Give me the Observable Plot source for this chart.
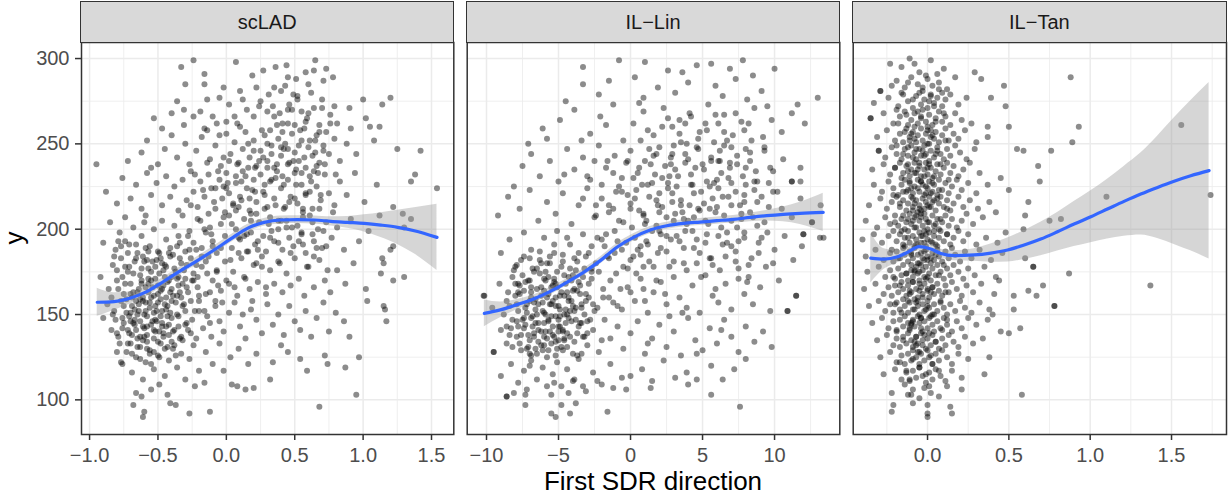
<!DOCTYPE html>
<html><head><meta charset="utf-8">
<script src="https://cdn.jsdelivr.net/npm/d3@7"></script>
<script src="https://cdn.jsdelivr.net/npm/@observablehq/plot@0.6"></script>
<style>
html,body{margin:0;padding:0;background:#fff;}
#fig{position:relative;width:1228px;height:495px;overflow:hidden;font-family:"Liberation Sans",Arial,Helvetica,sans-serif;}
.strip{position:absolute;top:1px;height:41.75px;box-sizing:border-box;background:#d9d9d9;border:1.5px solid #333;color:#1a1a1a;font-size:20px;line-height:23px;padding-top:2px;display:flex;align-items:center;justify-content:center;}
.ttl{position:absolute;color:#000;font-size:26px;line-height:26px;white-space:nowrap;}
</style></head><body><div id="fig"></div>
<script>
const panelNames = ["scLAD", "IL\u2212Lin", "IL\u2212Tan"];
const xTitle = "First SDR direction";
const yTitle = "y";
const yMajor = [100, 150, 200, 250, 300];
const yMinor = [125, 175, 225, 275];
const p1XTicks = [-1, -0.5, 0, 0.5, 1, 1.5];
const p1XMinor = [-0.75, -0.25, 0.25, 0.75, 1.25];
const p2XTicks = [-10, -5, 0, 5, 10];
const p2XMinor = [-7.5, -2.5, 2.5, 7.5, 12.5];
const p3XTicks = [0, 0.5, 1, 1.5];
const p3XMinor = [-0.25, 0.25, 0.75, 1.25, 1.75];

// scLAD points (x, y pairs)
const scladXY = [
-0.33,295,-0.24,299,0.07,298,0.36,295,0.44,296,0.65,299,0.73,294,0.78,289,0.19,290,0.27,293,0.45,289,0.51,288,0.58,292,0.64,293,0.71,287,-0.16,291,
-0.30,285,-0.16,285,-0.14,276,-0.36,275,-0.31,270,-0.05,277,0.02,273,0.10,281,0.25,275,0.31,279,0.40,281,0.46,273,0.55,269,0.64,271,0.70,271,0.79,272,0.90,271,-0.19,269,-0.40,268,-0.24,266,-0.10,266,0.06,266,0.20,266,0.30,269,0.45,270,0.59,265,0.76,267,0.00,263,0.10,260,-0.07,262,-0.16,259,-0.31,261,0.37,261,0.50,261,0.68,261,0.81,262,0.91,259,1.00,276,1.14,273,1.20,277,1.02,265,1.05,260,1.12,260,-0.53,265,-0.47,259,0.15,270,0.35,266,0.52,278,0.22,283,0.62,280,-0.02,283,
-0.72,240,-0.62,245,-0.58,252,-0.50,238,-0.45,247,-0.40,255,-0.36,242,-0.30,250,-0.27,238,-0.22,246,-0.18,254,-0.12,241,-0.08,249,-0.04,237,0.00,256,0.03,244,0.06,251,0.09,239,0.12,247,0.14,257,0.17,242,0.20,252,0.22,237,0.25,246,0.28,255,0.30,240,0.33,249,0.35,236,0.38,253,0.40,243,0.43,250,0.45,238,0.48,256,0.50,245,0.53,240,0.55,252,0.58,236,0.60,248,0.63,243,0.66,255,0.68,239,0.71,249,0.75,244,0.79,253,0.83,240,0.88,250,0.95,244,1.25,247,1.42,246,1.08,252,-0.55,236,0.27,242,0.42,247,0.16,236,0.57,259,-0.14,258,0.73,257,0.32,258,
-0.88,222,-0.80,215,-0.76,230,-0.70,218,-0.66,226,-0.62,212,-0.58,233,-0.55,220,-0.51,227,-0.47,214,-0.44,231,-0.41,219,-0.38,225,-0.35,211,-0.32,229,-0.29,217,-0.26,234,-0.24,222,-0.21,213,-0.19,228,-0.16,219,-0.13,232,-0.11,224,-0.08,212,-0.05,229,-0.03,218,0.00,233,0.02,221,0.05,214,0.07,227,0.10,219,0.12,234,0.15,224,0.17,211,0.20,229,0.22,216,0.25,232,0.27,222,0.30,213,0.32,228,0.35,218,0.37,234,0.40,224,0.42,212,0.45,229,0.47,219,0.50,233,0.52,215,0.55,226,0.58,220,0.61,231,0.63,212,0.66,225,0.69,217,0.72,232,0.75,221,0.79,214,0.83,228,0.88,220,0.94,233,1.01,216,1.10,226,1.22,213,1.38,232,0.19,223,0.41,231,-0.02,225,0.56,210,0.28,226,0.64,234,0.09,213,
-0.90,192,-0.85,204,-0.81,188,-0.78,198,-0.74,207,-0.71,191,-0.68,201,-0.65,186,-0.62,196,-0.59,208,-0.56,190,-0.53,200,-0.50,187,-0.47,205,-0.44,194,-0.41,189,-0.38,202,-0.35,196,-0.32,208,-0.30,187,-0.27,199,-0.24,192,-0.21,206,-0.18,189,-0.15,198,-0.13,209,-0.10,193,-0.07,186,-0.04,203,-0.01,196,0.02,208,0.04,189,0.07,200,0.10,194,0.13,206,0.15,187,0.18,198,0.21,191,0.24,204,0.27,196,0.29,187,0.32,207,0.35,193,0.38,200,0.41,188,0.44,205,0.46,195,0.49,190,0.52,202,0.55,197,0.58,186,0.61,208,0.64,193,0.67,200,0.70,189,0.73,204,0.77,195,0.81,201,0.86,188,0.91,206,0.97,193,1.04,199,1.12,208,1.20,188,1.30,201,-0.60,204,-0.36,190,-0.12,201,0.09,186,0.33,199,0.56,191,-0.79,193,0.22,209,
-0.92,172,-0.86,165,-0.83,179,-0.80,170,-0.77,183,-0.75,162,-0.72,175,-0.70,168,-0.67,181,-0.65,163,-0.63,173,-0.61,184,-0.59,166,-0.57,177,-0.55,170,-0.53,161,-0.51,182,-0.49,174,-0.47,165,-0.45,179,-0.43,169,-0.41,184,-0.39,161,-0.37,175,-0.35,167,-0.33,180,-0.30,171,-0.28,163,-0.26,183,-0.24,174,-0.21,166,-0.18,178,-0.15,162,-0.13,184,-0.10,170,-0.07,176,-0.04,164,-0.01,181,0.02,168,0.05,175,0.08,161,0.11,183,0.14,171,0.17,165,0.20,179,0.23,169,0.26,184,0.29,162,0.32,176,0.35,168,0.38,181,0.41,163,0.44,174,0.47,167,0.50,183,0.53,171,0.57,161,0.60,178,0.64,166,0.68,182,0.72,170,0.76,163,0.81,176,0.87,168,0.93,180,1.02,165,1.13,174,1.22,170,-0.69,160,-0.58,182,-0.46,176,-0.34,163,-0.22,179,-0.62,170,-0.50,167,-0.40,172,-0.74,178,
-0.90,148,-0.87,156,-0.84,141,-0.82,152,-0.79,137,-0.77,158,-0.75,145,-0.73,151,-0.71,139,-0.69,155,-0.67,147,-0.65,136,-0.63,159,-0.61,143,-0.60,150,-0.58,138,-0.56,154,-0.54,146,-0.52,140,-0.50,157,-0.48,149,-0.46,137,-0.44,153,-0.42,144,-0.40,158,-0.38,141,-0.36,150,-0.34,136,-0.32,155,-0.29,145,-0.26,139,-0.23,152,-0.20,158,-0.17,142,-0.14,149,-0.11,137,-0.08,155,-0.05,146,-0.02,140,0.02,151,0.06,157,0.10,143,0.14,136,0.18,153,0.22,147,0.26,139,0.30,156,0.34,144,0.38,150,0.42,138,0.46,155,0.50,146,0.54,141,0.58,152,0.62,137,0.66,148,0.71,157,0.75,140,0.80,151,0.86,146,0.90,137,1.16,153,1.17,146,-0.64,152,-0.55,144,-0.70,146,-0.47,143,-0.59,157,-0.76,142,-0.43,149,-0.66,141,-0.53,151,
-0.80,128,-0.76,121,-0.72,133,-0.69,116,-0.66,125,-0.63,131,-0.61,112,-0.59,122,-0.56,129,-0.53,118,-0.50,126,-0.48,133,-0.45,114,-0.42,123,-0.39,130,-0.36,119,-0.33,127,-0.30,112,-0.27,124,-0.24,132,-0.20,117,-0.15,128,-0.10,121,-0.05,133,-0.02,117,0.03,125,0.09,130,0.16,121,0.22,127,0.32,112,0.34,122,0.45,128,0.54,124,0.59,117,0.72,126,0.74,121,0.87,119,0.97,125,0.40,132,-0.58,134,
-0.68,97,-0.61,90,-0.60,93,-0.27,92,-0.12,93,0.68,96,0.95,103,-0.66,104,-0.62,102,-0.43,103,-0.41,98,-0.37,97,-0.23,108,-0.16,110,0.04,109,0.08,108,0.14,106,0.20,107,-0.49,109,-0.55,106,
-0.84,160,-0.81,147,-0.80,176,-0.78,133,-0.77,190,-0.75,155,-0.74,168,-0.73,128,-0.72,186,-0.71,149,-0.70,162,-0.69,138,-0.68,174,-0.67,153,-0.66,183,-0.65,131,-0.64,165,-0.63,146,-0.62,177,-0.61,158,-0.60,137,-0.59,189,-0.58,149,-0.57,168,-0.56,127,-0.55,160,-0.54,181,-0.53,141,-0.52,171,-0.51,152,-0.50,134,-0.49,186,-0.48,159,-0.47,145,-0.46,167,-0.45,130,-0.44,178,-0.43,155,-0.42,138,-0.41,163,-0.40,148,-0.39,185,-0.38,132,-0.37,157,-0.36,171,-0.35,143,-0.34,192,-0.33,160,-0.32,135,-0.31,176,-0.30,152,-0.29,166,-0.28,141,-0.27,188,-0.26,158,-0.25,147,-0.24,170,-0.22,136,-0.20,161,-0.18,184,-0.16,152,-0.14,174,-0.12,145,-0.10,190,-0.08,158,-0.06,167,-0.60,142,-0.55,175,-0.66,158,-0.52,147,-0.45,156,-0.70,151,-0.63,137,-0.57,163,-0.49,140,-0.42,170,-0.76,172,-0.68,145,-0.58,130,-0.47,180,
0.02,240,0.05,215,0.08,262,0.11,228,0.13,196,0.16,250,0.18,209,0.21,236,0.23,188,0.26,258,0.28,220,0.31,203,0.33,244,0.36,230,0.38,192,0.41,257,0.43,213,0.46,239,0.48,201,0.51,226,0.53,249,0.56,207,0.58,263,0.61,222,0.63,197,0.66,237,0.68,212,0.71,246,0.73,190,-0.05,255,-0.02,207,0.00,224,0.07,231,0.24,272,0.39,268,0.49,279,0.60,285,0.35,283,0.12,276,0.45,262,0.30,236,0.20,246,0.55,233,0.65,252,0.40,205,0.17,218,
-0.95,238,1.54,224,1.35,228,1.29,209,1.35,206,1.22,190,1.14,183,1.15,180,1.30,172,1.03,158,1.15,155
];
// scLAD: denser parts of the cloud
const scladCoreXY = [
-0.83,150,-0.82,184,-0.80,139,-0.79,165,-0.77,122,-0.76,148,-0.74,193,-0.73,159,-0.72,141,-0.71,178,-0.69,127,-0.68,163,-0.67,144,-0.66,191,-0.64,156,-0.63,124,-0.62,168,-0.61,135,-0.60,181,-0.59,152,-0.58,143,-0.57,187,-0.56,157,-0.55,121,-0.54,166,-0.53,136,-0.52,178,-0.51,146,-0.50,162,-0.49,125,-0.48,183,-0.47,152,-0.46,139,-0.45,172,-0.44,160,-0.43,131,-0.42,186,-0.41,151,-0.40,165,-0.39,140,-0.38,177,-0.37,126,-0.36,161,-0.35,149,-0.34,183,-0.33,137,-0.32,168,-0.31,156,-0.30,144,-0.29,179,-0.65,150,-0.57,171,-0.53,128,-0.48,164,-0.44,143,-0.70,133,-0.61,160,-0.52,155,-0.40,134,-0.35,172,
-0.28,196,-0.26,214,-0.25,170,-0.23,232,-0.22,188,-0.20,152,-0.19,205,-0.17,223,-0.15,181,-0.14,239,-0.12,163,-0.11,197,-0.09,216,-0.07,175,-0.06,234,-0.04,189,-0.03,157,-0.01,210,0.01,227,0.03,182,0.04,203,0.06,166,0.08,238,0.09,195,0.11,217,0.13,172,0.14,231,0.16,187,0.18,205,0.19,158,0.21,222,0.23,193,0.24,240,0.26,178,0.28,212,0.29,166,-0.16,200,-0.08,224,0.00,170,0.07,211,0.15,197,0.22,180,-0.21,172,-0.02,242,0.12,150,
0.30,250,0.32,195,0.34,272,0.36,214,0.37,238,0.39,180,0.41,262,0.42,226,0.44,201,0.45,247,0.47,186,0.48,270,0.50,218,0.51,235,0.53,193,0.54,258,0.56,212,0.57,242,0.59,178,0.60,268,0.62,228,0.63,204,0.65,245,0.66,189,0.68,257,0.69,220,0.71,199,0.72,238,0.74,176,0.76,262,0.78,210,0.80,232,0.33,229,0.40,248,0.46,216,0.52,276,0.58,221,0.64,184,0.70,276,0.43,284,0.55,198,0.61,252,0.38,205,0.49,240,0.67,233
];

// IL-Lin points (x, y pairs)
const ilLinXY = [
-0.8,299,1.0,298,7.8,299,-3.3,295,2.6,293,4.6,296,10.0,294,-3.3,285,-4.5,275,3.6,292,5.6,297,6.9,294,8.5,290,0.3,289,-1.5,287,1.9,283,4.0,286,5.9,284,7.3,288,9.1,281,-2.2,279,6.4,278,3.1,280,0.9,277,8.1,276,
-6.1,259,-7.1,250,13.0,277,11.6,273,-4.9,264,-3.9,270,-2.8,256,-2.1,266,-1.2,273,-0.5,252,0.2,262,0.9,269,1.6,255,2.3,271,2.9,260,3.5,251,4.2,266,4.8,257,5.4,273,6.1,262,6.7,252,7.3,268,7.9,258,8.6,271,9.2,254,9.8,264,10.5,257,11.2,268,12.1,262,-5.8,253,-1.7,261,1.2,258,3.8,262,5.9,267,8.2,262,9.5,272,0.6,274,2.6,265,-3.4,252,
-8.1,225,-7.5,237,-6.9,244,-6.3,231,-5.6,240,-5.0,228,-4.4,247,-3.9,235,-3.3,242,-2.8,229,-2.2,249,-1.7,236,-1.1,243,-0.6,230,0.0,246,0.5,233,1.0,240,1.5,227,2.0,248,2.4,237,2.9,244,3.3,231,3.8,239,4.2,226,4.7,247,5.1,235,5.6,242,6.0,229,6.5,249,6.9,236,7.4,243,7.8,231,8.3,240,8.8,228,9.3,246,9.9,234,10.6,241,11.2,228,11.8,236,0.8,226,2.7,231,4.5,236,6.2,240,3.0,249,5.3,228,7.0,227,1.8,244,-0.3,239,8.0,247,9.6,227,-4.6,232,-2.5,240,
-9.2,208,-8.5,219,-7.7,212,-7.0,223,-6.4,205,-5.8,216,-5.2,209,-4.7,221,-4.1,203,-3.6,214,-3.0,224,-2.5,207,-2.0,218,-1.5,210,-1.0,222,-0.5,204,0.0,215,0.4,223,0.9,208,1.3,219,1.8,202,2.2,213,2.6,224,3.1,209,3.5,217,3.9,203,4.4,221,4.8,211,5.2,205,5.7,218,6.1,224,6.5,208,7.0,214,7.4,201,7.9,220,8.3,210,8.8,216,9.3,204,9.9,222,10.5,212,11.2,207,11.8,218,12.6,204,13.2,214,-1.2,212,0.6,211,2.0,221,3.7,206,5.5,212,6.8,219,8.6,223,4.1,214,1.0,203,2.9,216,6.3,201,-0.2,220,7.7,206,9.6,213,-3.3,218,12.0,197,13.4,195,
-9.0,186,-8.4,194,-7.9,179,-7.4,198,-6.9,188,-6.5,177,-6.0,195,-5.6,184,-5.1,199,-4.7,181,-4.2,191,-3.8,176,-3.3,197,-2.9,186,-2.4,180,-2.0,194,-1.5,183,-1.1,199,-0.6,188,-0.2,177,0.3,195,0.7,185,1.2,191,1.6,178,2.1,197,2.5,187,3.0,181,3.4,193,3.9,176,4.3,199,4.8,186,5.2,192,5.7,179,6.1,196,6.6,184,7.0,190,7.5,177,7.9,198,8.4,183,8.9,192,9.4,178,10.0,188,10.7,196,11.3,182,11.9,190,-7.0,183,-5.3,191,-3.6,186,-1.8,190,0.0,182,1.9,186,3.7,189,5.5,183,7.3,187,9.1,195,-6.2,180,-4.4,195,-2.7,177,-0.9,193,0.9,178,2.8,194,4.6,180,6.4,191,8.2,179,
-10.2,161,-9.6,154,-9.1,168,-8.6,158,-8.2,172,-7.8,152,-7.4,164,-7.0,170,-6.7,157,-6.3,174,-6.0,151,-5.7,162,-5.3,169,-5.0,155,-4.6,173,-4.3,160,-3.9,152,-3.5,167,-3.1,158,-2.7,171,-2.3,154,-1.9,165,-1.5,160,-1.0,174,-0.6,153,-0.2,166,0.3,158,0.7,171,1.2,151,1.6,163,2.1,169,2.5,156,3.0,172,3.4,160,3.9,154,4.3,167,4.8,151,5.2,173,5.7,161,6.1,157,6.6,168,7.0,153,7.5,171,7.9,162,8.5,156,9.0,166,9.7,152,10.3,170,10.9,152,11.5,161,-7.7,167,-6.9,160,-6.2,166,-5.5,156,-4.8,163,-4.1,170,-3.4,156,-8.0,161,-6.6,153,-5.9,170,-5.2,160,-4.5,153,-3.7,164,-7.2,156,0.9,165,3.6,151,5.9,165,8.1,169,-1.2,157,
-9.5,128,-9.0,141,-8.6,133,-8.2,147,-7.9,137,-7.6,129,-7.3,144,-7.0,135,-6.8,149,-6.5,127,-6.2,140,-6.0,132,-5.7,146,-5.4,138,-5.1,130,-4.9,143,-4.6,135,-4.3,148,-4.0,127,-3.7,139,-3.4,145,-3.0,132,-2.6,141,-2.2,128,-1.8,147,-1.4,136,-0.9,143,-0.5,130,0.0,139,0.5,146,1.0,127,1.5,136,2.0,144,2.5,131,3.0,140,3.5,126,4.0,148,4.5,135,5.0,129,5.5,142,6.0,133,6.5,147,7.0,137,7.5,128,8.0,143,8.6,134,9.2,140,9.8,131,-7.8,143,-7.1,131,-6.4,145,-5.8,136,-5.2,126,-4.7,140,-8.4,138,-6.7,137,-5.5,133,-4.4,131,-3.2,137,-7.4,148,-6.1,129,-5.0,147,2.7,149,6.3,141,-2.0,135,1.2,133,4.6,127,
-9.0,114,-8.3,121,-7.8,110,-7.4,117,-7.2,106,-6.9,123,-6.5,112,-6.1,119,-5.8,108,-5.4,115,-5.1,122,-4.8,108,-4.4,118,-4.0,111,-3.6,124,-3.1,105,-2.6,116,-2.0,109,-1.4,121,-0.6,113,0.0,114,0.8,118,1.5,111,2.3,123,3.1,113,3.9,116,4.6,112,5.6,120,6.4,112,7.2,118,8.0,124,-5.3,110,-3.9,112,-7.0,120,
-8.6,102,-8.1,104,-7.3,97,-7.3,103,-5.5,103,-5.5,92,-5.2,90,-4.8,97,-4.3,104,-4.2,92,-3.8,98,-1.6,93,7.6,96,5.6,103,4.0,109,1.4,107,-0.3,106,-1.2,107,-2.3,111,-3.3,108,
-8.8,150,-8.5,163,-8.3,142,-8.1,176,-7.9,156,-7.7,133,-7.6,182,-7.5,147,-7.3,169,-7.1,138,-7.0,158,-6.9,126,-6.8,177,-6.6,145,-6.5,165,-6.4,134,-6.3,187,-6.1,152,-6.0,171,-5.9,140,-5.8,160,-5.7,129,-5.6,180,-5.5,149,-5.4,167,-5.3,137,-5.2,155,-5.1,175,-5.0,143,-4.9,161,-4.8,131,-4.7,185,-4.6,150,-4.5,168,-4.4,139,-4.3,158,-4.2,177,-4.1,146,-4.0,164,-3.9,134,-3.8,154,-3.7,181,-3.6,143,-3.5,162,-3.4,127,-3.3,172,-3.2,150,-3.1,184,-3.0,139,-2.9,160,-2.8,147,-2.7,175,-2.6,156,-7.8,163,-7.2,151,-6.7,139,-6.2,161,-5.7,147,-5.2,168,-4.7,141,-4.2,152,-6.0,145,-5.4,158,-4.9,149,-6.9,166,-7.4,142,-6.4,156,-5.9,175,-5.0,135,-4.4,163,-8.0,168,-6.6,130,-5.6,140,-4.0,173,-3.5,145,
0.2,230,0.7,252,1.1,205,1.4,238,1.8,217,2.2,260,2.5,196,2.8,242,3.2,225,3.6,210,3.9,250,4.2,232,4.6,194,4.9,222,5.3,258,5.6,240,6.0,213,6.3,233,6.7,198,7.0,248,7.3,222,7.7,209,8.0,236,8.4,252,8.8,202,0.5,188,1.7,232,3.0,205,4.0,241,5.1,215,6.5,257,7.5,193,8.6,228,2.0,210,3.4,264,4.4,207,5.8,227,6.9,239,1.3,247,2.6,227,3.8,199,5.4,203,6.2,246,7.9,216,4.7,253,0.0,212,-0.8,225,-1.6,240,-2.4,214,-3.0,231,
-10.15,161,-9.5,128,-8.6,102,13.15,195,12.6,204,12.0,197,11.5,161,10.9,152,11.8,228,11.2,228
];
// IL-Lin: denser parts of the cloud
const ilLinCoreXY = [
-8.4,155,-8.2,131,-8.0,178,-7.9,146,-7.7,162,-7.6,138,-7.4,184,-7.3,154,-7.1,170,-7.0,127,-6.9,148,-6.7,175,-6.6,159,-6.4,141,-6.3,182,-6.2,132,-6.0,164,-5.9,150,-5.8,125,-5.7,172,-5.6,156,-5.4,143,-5.3,186,-5.2,134,-5.1,166,-4.9,153,-4.8,178,-4.7,129,-4.6,161,-4.5,145,-4.3,172,-4.2,137,-4.1,158,-3.9,183,-3.8,147,-3.7,126,-3.6,169,-3.4,154,-3.3,137,-3.2,177,-3.1,162,-3.0,146,-7.5,173,-6.8,143,-6.1,157,-5.5,166,-5.0,140,-4.4,150,-3.9,165,-7.2,130,-6.5,150,-5.8,180,-5.2,149,-4.6,136,-4.0,155,-6.9,163,-6.0,137,-5.3,171,-8.6,143,-7.8,168,
-2.9,168,-2.7,190,-2.5,152,-2.4,208,-2.2,175,-2.0,226,-1.9,160,-1.7,197,-1.5,214,-1.4,170,-1.2,233,-1.1,186,-0.9,155,-0.8,205,-0.6,222,-0.5,178,-0.3,192,-0.2,240,0.0,163,0.1,201,0.3,218,0.4,174,0.6,236,0.7,190,0.9,209,1.0,158,1.2,226,1.3,181,1.5,199,1.6,243,1.8,170,1.9,214,2.1,189,2.2,230,2.4,162,2.5,207,2.7,178,2.8,238,-1.6,184,-0.7,165,0.2,184,1.1,193,2.0,199,2.9,221,-2.3,195,
3.1,235,3.2,196,3.4,256,3.5,214,3.7,180,3.8,244,4.0,205,4.1,268,4.3,226,4.4,189,4.6,248,4.7,212,4.9,172,5.0,238,5.2,262,5.3,197,5.5,225,5.6,183,5.8,251,5.9,210,6.1,240,6.2,176,6.4,219,6.5,267,6.7,192,6.8,230,7.0,205,7.1,255,7.3,181,7.4,238,7.6,214,7.7,263,7.9,195,8.0,226,8.2,172,8.3,245,8.5,207,8.7,234,8.9,186,9.1,219,9.3,248,9.5,198,9.7,236,9.9,180,10.2,222
];

// IL-Tan points (x, y pairs)
const ilTanXY = [
-0.23,297,-0.11,300,0.02,299,0.10,294,-0.05,292,-0.16,295,0.06,291,-0.08,297,
-0.29,281,-0.19,287,-0.14,283,-0.10,289,-0.06,285,-0.03,281,0.00,288,0.03,284,0.07,286,0.12,282,0.17,289,-0.22,284,-0.01,290,0.09,280,
-0.33,274,-0.24,277,-0.18,272,-0.15,279,-0.12,275,-0.09,271,-0.07,278,-0.04,273,-0.02,276,0.00,271,0.02,279,0.04,274,0.06,277,0.09,272,0.11,276,0.14,279,0.19,273,0.24,277,-0.05,280,0.01,275,
-0.35,265,-0.27,268,-0.21,262,-0.17,266,-0.14,269,-0.12,261,-0.10,264,-0.08,268,-0.06,262,-0.04,266,-0.03,270,-0.01,263,0.01,267,0.03,261,0.05,265,0.07,269,0.09,263,0.11,266,0.14,261,0.17,268,0.21,264,0.27,262,-0.19,270,0.00,260,
-0.31,254,-0.25,258,-0.20,252,-0.17,256,-0.15,251,-0.13,259,-0.11,254,-0.09,257,-0.07,251,-0.06,255,-0.04,259,-0.03,252,-0.01,256,0.00,250,0.02,258,0.04,253,0.05,257,0.07,251,0.09,255,0.11,259,0.13,252,0.16,256,0.19,253,0.23,258,0.30,251,-0.08,253,0.03,255,-0.14,257,
-0.30,246,-0.26,242,-0.22,248,-0.19,244,-0.16,241,-0.14,247,-0.12,243,-0.10,249,-0.08,245,-0.07,241,-0.05,247,-0.04,243,-0.02,249,-0.01,244,0.01,240,0.02,246,0.04,242,0.06,248,0.08,244,0.10,241,0.12,247,0.14,243,0.17,249,0.20,245,0.24,241,0.29,247,-0.09,242,-0.03,246,0.05,244,-0.12,248,
-0.34,235,-0.27,238,-0.23,232,-0.20,236,-0.17,239,-0.15,233,-0.13,237,-0.11,231,-0.10,235,-0.08,239,-0.07,233,-0.05,237,-0.04,231,-0.02,235,-0.01,239,0.00,232,0.02,236,0.03,230,0.05,234,0.06,238,0.08,232,0.10,236,0.12,239,0.14,233,0.16,237,0.19,231,0.22,235,0.26,239,0.32,233,-0.06,235,0.01,238,-0.12,234,
-0.33,226,-0.28,222,-0.24,228,-0.21,224,-0.18,220,-0.16,226,-0.14,229,-0.12,223,-0.11,227,-0.09,221,-0.08,225,-0.06,229,-0.05,222,-0.03,226,-0.02,220,0.00,224,0.01,228,0.03,222,0.04,226,0.06,220,0.07,229,0.09,223,0.11,227,0.13,221,0.15,225,0.18,229,0.21,223,0.25,227,0.30,221,0.37,226,-0.10,224,-0.04,228,0.02,221,-0.15,222,
-0.36,214,-0.29,218,-0.25,212,-0.22,216,-0.19,219,-0.17,213,-0.15,217,-0.13,211,-0.12,215,-0.10,219,-0.09,213,-0.07,217,-0.06,210,-0.05,214,-0.03,218,-0.02,212,-0.01,216,0.01,219,0.02,213,0.04,217,0.05,211,0.07,215,0.08,219,0.10,213,0.12,217,0.14,211,0.16,215,0.19,219,0.22,213,0.26,217,0.31,212,0.38,216,-0.08,215,-0.04,211,0.00,214,0.06,218,
-0.38,205,-0.31,201,-0.26,207,-0.23,203,-0.20,208,-0.18,202,-0.16,206,-0.14,200,-0.13,204,-0.11,209,-0.10,203,-0.08,207,-0.07,201,-0.05,205,-0.04,209,-0.03,202,-0.01,206,0.00,200,0.01,204,0.03,208,0.04,202,0.06,206,0.07,200,0.09,204,0.11,208,0.13,202,0.15,206,0.18,201,0.21,205,0.24,209,0.28,203,0.34,207,-0.09,205,-0.02,209,0.05,203,-0.15,208,
-0.40,194,-0.33,197,-0.28,192,-0.24,196,-0.21,199,-0.19,193,-0.17,197,-0.15,191,-0.14,195,-0.12,199,-0.11,192,-0.09,196,-0.08,190,-0.07,194,-0.05,198,-0.04,192,-0.03,196,-0.01,190,0.00,194,0.01,198,0.03,192,0.04,196,0.05,191,0.07,195,0.08,199,0.10,193,0.12,197,0.14,191,0.16,195,0.19,199,0.22,193,0.25,197,0.30,191,0.36,195,0.43,192,-0.06,191,-0.02,199,0.02,193,
-0.38,184,-0.32,188,-0.27,182,-0.23,186,-0.21,181,-0.19,187,-0.17,183,-0.15,189,-0.14,185,-0.12,181,-0.11,187,-0.09,183,-0.08,189,-0.06,185,-0.05,180,-0.04,186,-0.02,182,-0.01,188,0.00,184,0.02,180,0.03,186,0.04,182,0.06,188,0.07,184,0.09,181,0.11,187,0.13,183,0.15,189,0.17,185,0.20,181,0.23,187,0.27,183,0.32,188,0.39,182,-0.10,185,-0.03,183,0.05,185,0.60,183,
-0.37,175,-0.30,178,-0.26,172,-0.23,176,-0.20,171,-0.18,177,-0.16,173,-0.15,179,-0.13,174,-0.12,170,-0.10,176,-0.09,172,-0.07,178,-0.06,174,-0.05,170,-0.03,176,-0.02,172,-0.01,178,0.01,174,0.02,170,0.03,177,0.05,173,0.06,179,0.08,175,0.10,171,0.12,177,0.14,173,0.16,179,0.19,175,0.22,171,0.25,177,0.29,173,0.35,178,0.42,172,-0.08,175,-0.04,179,0.00,172,0.65,178,
-0.39,165,-0.32,168,-0.27,162,-0.24,166,-0.22,161,-0.20,167,-0.18,163,-0.16,169,-0.15,165,-0.13,161,-0.12,167,-0.10,163,-0.09,169,-0.07,165,-0.06,160,-0.04,166,-0.03,162,-0.02,168,0.00,164,0.01,160,0.03,166,0.04,162,0.06,168,0.07,164,0.09,161,0.11,167,0.13,163,0.15,169,0.18,165,0.21,161,0.24,167,0.28,163,0.33,168,0.41,162,-0.11,164,-0.05,168,0.02,163,0.62,164,
-0.36,155,-0.30,158,-0.26,152,-0.23,156,-0.21,151,-0.19,157,-0.17,153,-0.15,159,-0.14,155,-0.12,151,-0.11,157,-0.09,153,-0.08,159,-0.06,155,-0.05,150,-0.03,156,-0.02,152,0.00,158,0.01,154,0.03,150,0.04,156,0.06,152,0.08,158,0.10,154,0.12,150,0.14,156,0.17,152,0.20,158,0.23,154,0.27,151,0.32,157,0.38,153,-0.07,157,-0.01,153,0.53,153,0.78,155,
-0.34,145,-0.28,148,-0.24,142,-0.21,146,-0.19,141,-0.17,147,-0.15,143,-0.14,149,-0.12,145,-0.11,141,-0.09,147,-0.08,143,-0.06,149,-0.05,145,-0.03,140,-0.02,146,0.00,142,0.01,148,0.03,144,0.04,140,0.06,146,0.08,142,0.10,148,0.12,144,0.15,140,0.18,146,0.21,142,0.25,148,0.30,144,0.37,147,-0.10,144,-0.04,148,0.57,142,0.50,139,
-0.31,135,-0.25,138,-0.21,132,-0.19,136,-0.17,131,-0.15,137,-0.13,133,-0.12,139,-0.10,135,-0.09,131,-0.07,137,-0.06,133,-0.04,139,-0.03,135,-0.01,130,0.00,136,0.02,132,0.03,138,0.05,134,0.07,130,0.09,136,0.11,132,0.13,138,0.16,134,0.19,131,0.23,137,0.28,133,0.34,136,-0.08,134,-0.02,138,
-0.29,125,-0.23,128,-0.19,122,-0.16,126,-0.14,121,-0.12,127,-0.10,123,-0.09,129,-0.07,125,-0.05,121,-0.04,127,-0.02,123,0.00,129,0.01,125,0.03,121,0.05,127,0.07,123,0.09,129,0.12,125,0.15,121,0.19,127,0.25,124,-0.06,128,0.02,126,
-0.27,115,-0.20,118,-0.16,112,-0.13,116,-0.11,111,-0.09,117,-0.07,113,-0.05,119,-0.03,114,-0.01,110,0.01,116,0.03,112,0.05,118,0.08,114,0.11,111,0.15,117,0.21,113,-0.14,109,
-0.22,104,-0.12,103,-0.10,103,-0.09,106,-0.05,101,-0.02,107,0.02,104,0.07,102,0.12,108,0.21,106,0.58,103,
-0.22,93,-0.21,97,-0.09,98,0.00,90,0.00,92,0.00,97,0.15,92,0.14,96,
0.29,292,0.33,288,0.47,284,0.39,277,0.48,272,0.50,260,0.37,260,0.37,254,0.88,289,0.93,260,0.89,251,0.76,246,0.55,247,0.59,246,1.56,261,0.69,228,0.68,237,1.10,219,1.74,220,0.82,206,0.75,205,0.62,216,0.60,208,0.59,200,0.87,174,1.37,167,0.71,167,0.78,155,0.67,161,0.53,161,0.50,223,0.65,178,0.45,230,0.42,210,0.48,198,0.46,186,0.44,170,0.40,150,0.45,140,0.38,125,0.35,115,-0.35,265,-0.29,281,-0.30,246
];
// IL-Tan: the dense central column
const ilTanCoreXY = [
-0.16,280,-0.09,276,-0.03,283,0.02,278,0.07,282,-0.12,286,0.04,272,-0.06,269,
-0.18,262,-0.13,267,-0.08,260,-0.04,265,0.00,258,0.05,263,0.10,268,-0.10,256,0.02,254,
-0.19,249,-0.15,244,-0.11,252,-0.07,247,-0.02,243,0.01,250,0.06,246,0.11,252,-0.05,239,
-0.20,236,-0.16,230,-0.12,238,-0.08,233,-0.04,228,0.00,236,0.04,231,0.08,238,0.13,229,-0.01,225,
-0.21,220,-0.17,215,-0.13,222,-0.09,218,-0.05,212,-0.01,221,0.03,216,0.07,223,0.12,212,-0.07,208,
-0.20,204,-0.16,199,-0.12,206,-0.08,201,-0.04,196,0.00,204,0.04,199,0.08,206,0.12,197,-0.02,192,
-0.22,188,-0.18,183,-0.14,190,-0.10,186,-0.06,180,-0.02,187,0.02,183,0.06,190,0.10,179,-0.08,176,
-0.21,172,-0.17,167,-0.13,174,-0.09,169,-0.05,164,-0.01,171,0.03,166,0.07,173,0.11,163,-0.03,160,
-0.20,156,-0.16,151,-0.12,158,-0.08,153,-0.04,148,0.00,155,0.04,150,0.08,157,0.12,147,-0.10,145,
-0.19,140,-0.15,135,-0.11,142,-0.07,137,-0.03,132,0.01,139,0.05,134,0.09,141,-0.05,128,
-0.17,122,-0.13,117,-0.09,124,-0.05,119,-0.01,115,0.03,121,0.07,117,-0.11,112,0.01,108,
-0.11,228,-0.06,224,-0.02,231,0.03,227,-0.09,211,-0.04,207,0.01,213,-0.12,195,-0.07,191,-0.01,197,-0.10,179,-0.05,175,0.00,182,-0.11,162,-0.06,158,0.00,165,-0.09,146,-0.04,142,0.02,149,-0.07,132
];

// Smooth fits: x, fitted y, lower and upper band
const p1SmX = [-0.944,-0.822,-0.700,-0.578,-0.456,-0.334,-0.212,-0.090,0.032,0.154,0.276,0.398,0.520,0.642,0.764,0.886,1.008,1.130,1.252,1.374,1.540];
const p1SmY = [157.2,157.6,159.7,163.6,169.5,175.7,181.6,187.8,194.3,200.5,204.0,205.4,205.6,205.4,204.6,204.0,203.4,202.4,201.1,199.1,195.2];
const p1SmLo = [149.0,152.4,156.1,160.7,167.0,173.3,179.3,185.5,192.0,198.2,201.7,203.1,203.3,203.0,201.9,200.5,198.4,195.1,191.1,185.6,175.8];
const p1SmHi = [165.4,162.8,163.3,166.5,172.0,178.1,183.9,190.1,196.6,202.8,206.3,207.7,207.9,207.8,207.3,207.5,208.4,209.7,211.1,212.6,214.6];

const p2SmX = [-10.15,-9.04,-7.88,-6.73,-5.57,-4.42,-3.26,-2.10,-0.95,0.21,1.37,2.52,3.68,4.83,5.99,7.14,8.30,9.45,10.61,11.77,13.38];
const p2SmY = [150.7,152.7,155.8,159.1,163.6,168.9,174.7,181.6,189.4,195.2,199.5,202.0,203.4,204.2,205.0,205.8,206.9,207.9,208.7,209.3,209.9];
const p2SmLo = [142.9,148.1,152.8,156.7,161.4,166.8,172.6,179.5,187.3,193.1,197.4,199.9,201.3,202.1,202.9,203.6,204.4,204.8,204.4,202.8,198.7];
const p2SmHi = [158.5,157.3,158.8,161.5,165.8,171.0,176.8,183.7,191.5,197.3,201.6,204.1,205.5,206.3,207.1,208.0,209.4,211.0,213.0,215.8,221.1];

const p3SmX = [-0.349,-0.267,-0.184,-0.123,-0.052,0.020,0.082,0.164,0.287,0.389,0.492,0.594,0.696,0.799,0.901,1.004,1.106,1.208,1.311,1.414,1.516,1.618,1.731];
const p3SmY = [183.1,182.5,183.9,186.4,189.8,188.4,185.8,184.5,184.9,186.0,187.8,190.7,194.2,198.5,203.0,207.3,211.8,216.3,220.6,224.5,228.1,231.3,234.3];
const p3SmLo = [168.5,176.5,180.4,183.8,187.3,186.0,183.3,181.5,181.2,180.7,180.8,182.3,184.4,187.2,189.8,192.1,194.3,195.8,196.6,194.5,191.1,187.3,182.6];
const p3SmHi = [197.7,188.5,187.4,189.0,192.3,190.8,188.3,187.5,188.6,191.3,194.8,199.1,204.0,209.8,216.2,222.5,229.3,236.8,244.6,254.5,265.1,275.3,286.0];

const yDomain = [79.7, 309.4];

function toPoints(a) {
  const out = [];
  for (let i = 0; i + 1 < a.length; i += 2) out.push({x: a[i], y: a[i + 1]});
  return out;
}
function toSmooth(xs, ys, lo, hi) {
  return xs.map((x, i) => ({x, y: ys[i], lo: lo[i], hi: hi[i]}));
}

const fmt1 = d3.format(".1f");
const fmt0 = d3.format("d");
const FONT = '"Liberation Sans", Arial, Helvetica, sans-serif';

const panels = [
  {name: panelNames[0], pts: toPoints(scladXY.concat(scladCoreXY)), sm: toSmooth(p1SmX, p1SmY, p1SmLo, p1SmHi),
   xDomain: [-1.059, 1.663], ticks: p1XTicks, minor: p1XMinor, fmt: fmt1,
   left: 0, width: 456, ml: 81, mr: 2.7, showY: true},
  {name: panelNames[1], pts: toPoints(ilLinXY.concat(ilLinCoreXY)), sm: toSmooth(p2SmX, p2SmY, p2SmLo, p2SmHi),
   xDomain: [-11.34, 14.53], ticks: p2XTicks, minor: p2XMinor, fmt: fmt0,
   left: 462, width: 380, ml: 4.7, mr: 2.7, showY: false},
  {name: panelNames[2], pts: toPoints(ilTanXY.concat(ilTanCoreXY)), sm: toSmooth(p3SmX, p3SmY, p3SmLo, p3SmHi),
   xDomain: [-0.457, 1.838], ticks: p3XTicks, minor: p3XMinor, fmt: fmt1,
   left: 848, width: 380, ml: 4.7, mr: 2, showY: false}
];

const fig = document.getElementById("fig");

for (const p of panels) {
  const marks = [
    Plot.ruleX(p.minor, {stroke: "#ebebeb", strokeWidth: 0.8}),
    Plot.ruleY(yMinor, {stroke: "#ebebeb", strokeWidth: 0.8}),
    Plot.ruleX(p.ticks, {stroke: "#ebebeb", strokeWidth: 1.5}),
    Plot.ruleY(yMajor, {stroke: "#ebebeb", strokeWidth: 1.5}),
    Plot.dot(p.pts, {x: "x", y: "y", r: 3, fill: "#000", fillOpacity: 0.45}),
    Plot.areaY(p.sm, {x: "x", y1: "lo", y2: "hi", fill: "#999999", fillOpacity: 0.4, curve: "monotone-x"}),
    Plot.line(p.sm, {x: "x", y: "y", stroke: "#3366FF", strokeWidth: 3.2, curve: "monotone-x"}),
    Plot.frame({stroke: "#333333", strokeWidth: 1.5}),
    Plot.axisX({ticks: p.ticks, tickFormat: p.fmt, tickSize: 6, tickPadding: 7, fontSize: 20,
      stroke: "#333333", fill: "#4d4d4d", strokeWidth: 1.5, label: null})
  ];
  if (p.showY) {
    marks.push(Plot.axisY({ticks: yMajor, tickFormat: fmt0, tickSize: 6, tickPadding: 6, fontSize: 20,
      stroke: "#333333", fill: "#4d4d4d", strokeWidth: 1.5, label: null}));
  }
  const svg = Plot.plot({
    width: p.width, height: 495,
    marginLeft: p.ml, marginRight: p.mr, marginTop: 42, marginBottom: 61,
    x: {domain: p.xDomain},
    y: p.showY ? {domain: yDomain} : {domain: yDomain, axis: null},
    style: {fontFamily: FONT, fontSize: "20px", background: "transparent", overflow: "visible"},
    marks
  });
  svg.style.position = "absolute";
  svg.style.left = p.left + "px";
  svg.style.top = "0px";
  svg.style.maxWidth = "none";
  fig.appendChild(svg);

  const fl = p.left + p.ml;
  const fw = p.width - p.ml - p.mr;
  const strip = document.createElement("div");
  strip.className = "strip";
  strip.style.left = (fl - 0.75) + "px";
  strip.style.width = (fw + 1.5) + "px";
  strip.textContent = p.name;
  fig.appendChild(strip);
}

const xt = document.createElement("div");
xt.className = "ttl";
xt.textContent = xTitle;
xt.style.left = "653px";
xt.style.top = "468px";
xt.style.transform = "translateX(-50%)";
fig.appendChild(xt);

const yt = document.createElement("div");
yt.className = "ttl";
yt.textContent = yTitle;
yt.style.lineHeight = "16px";
yt.style.left = "14px";
yt.style.top = "238.3px";
yt.style.transform = "translate(-50%,-50%) rotate(-90deg)";
fig.appendChild(yt);
</script>
</body></html>
